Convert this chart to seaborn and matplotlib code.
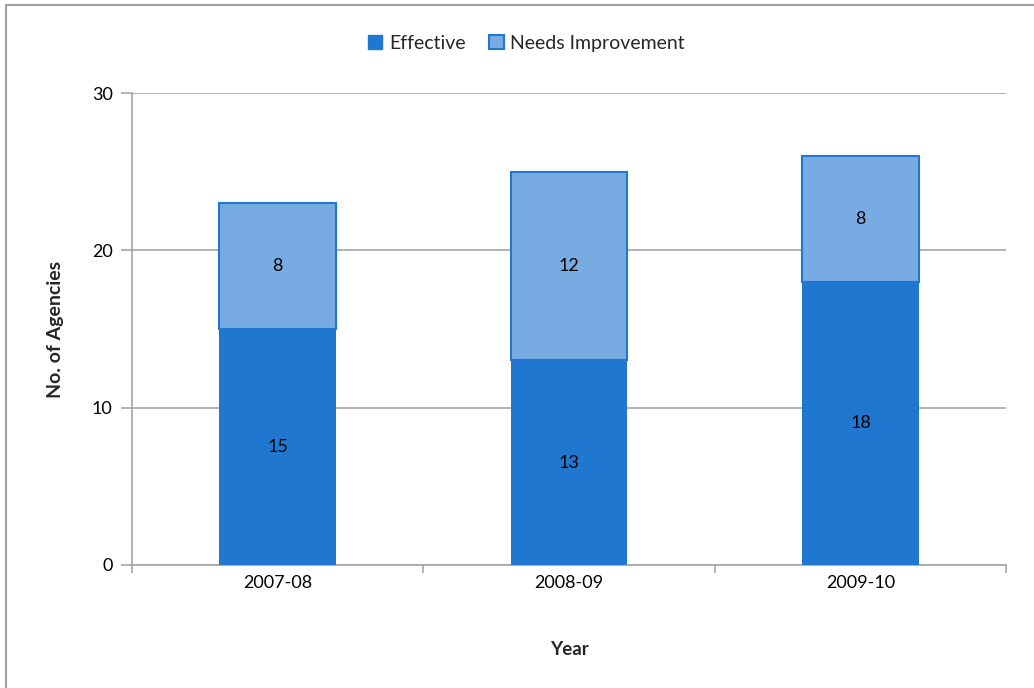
import matplotlib
matplotlib.use("Agg")
import matplotlib.pyplot as plt
from matplotlib.lines import Line2D
from matplotlib.patches import Patch
import seaborn as sns
import pandas as pd

# Agency review results per financial year
years = ["2007-08", "2008-09", "2009-10"]
effective = [15, 13, 18]
needs_improvement = [8, 12, 8]
y_ticks = [0, 10, 20, 30]

dark_blue = "#1F77D0"
light_blue = "#77ABE1"
grid_grey = "#A6A6A6"

sns.set_theme(style="white")
plt.rcParams["font.family"] = ["Lato", "DejaVu Sans"]

df = pd.DataFrame({"year": years, "effective": effective,
                   "needs": needs_improvement})

fig = plt.figure(figsize=(10.34, 6.88), dpi=100)
ax = fig.add_axes([0.1277, 0.1788, 0.8453, 0.686])

sns.barplot(data=df, x="year", y="effective", color=dark_blue,
            saturation=1, width=0.4, ax=ax, edgecolor=dark_blue,
            linewidth=0, zorder=3)
sns.barplot(data=df, x="year", y="needs", bottom=df["effective"],
            color=light_blue, saturation=1, width=0.4, ax=ax,
            edgecolor=dark_blue, linewidth=1.5, zorder=3)

# value labels centred in each segment
for i, (e, n) in enumerate(zip(effective, needs_improvement)):
    ax.text(i, e / 2, str(e), ha="center", va="center", fontsize=13,
            color="black", zorder=4)
    ax.text(i, e + n / 2, str(n), ha="center", va="center", fontsize=13,
            color="black", zorder=4)

ax.set_xlim(-0.5, len(years) - 0.5)
ax.set_ylim(0, 30)
ax.set_yticks(y_ticks)
ax.yaxis.grid(True, color=grid_grey, linewidth=1.2, zorder=0)
ax.set_axisbelow(True)

for side in ["top", "right"]:
    ax.spines[side].set_visible(False)
for side in ["left", "bottom"]:
    ax.spines[side].set_color(grid_grey)
    ax.spines[side].set_linewidth(1.2)

ax.tick_params(axis="y", which="major", direction="out", length=8,
               width=1.2, color=grid_grey, left=True, labelsize=13,
               pad=6, labelcolor="black")
ax.tick_params(axis="x", which="major", length=0, labelsize=13, pad=7,
               labelcolor="black")
ax.set_xticks([x - 0.5 for x in range(len(years) + 1)], minor=True)
ax.tick_params(axis="x", which="minor", direction="out", length=6,
               width=1.2, color=grid_grey, bottom=True)

ax.set_xlabel("Year", fontsize=13.5, fontweight="bold", labelpad=36)
ax.set_ylabel("No. of Agencies", fontsize=14, fontweight="bold",
              labelpad=20)

handles = [Patch(facecolor=dark_blue, edgecolor=dark_blue, label="Effective"),
           Patch(facecolor=light_blue, edgecolor=dark_blue, linewidth=1.5,
                 label="Needs Improvement")]
fig.legend(handles=handles, loc="center", bbox_to_anchor=(0.509, 0.937),
           ncol=2, frameon=False, fontsize=14, handlelength=0.75,
           handleheight=0.75, handletextpad=0.35, columnspacing=1.2)

# chart-area border along the top and left edges
fig.add_artist(Line2D([6 / 1034, 6 / 1034], [0, 1 - 5 / 688],
                      transform=fig.transFigure, color="#A0A0A0", lw=1.5))
fig.add_artist(Line2D([6 / 1034, 1], [1 - 5 / 688, 1 - 5 / 688],
                      transform=fig.transFigure, color="#A0A0A0", lw=1.5))

fig.savefig("out.png", dpi=100)
